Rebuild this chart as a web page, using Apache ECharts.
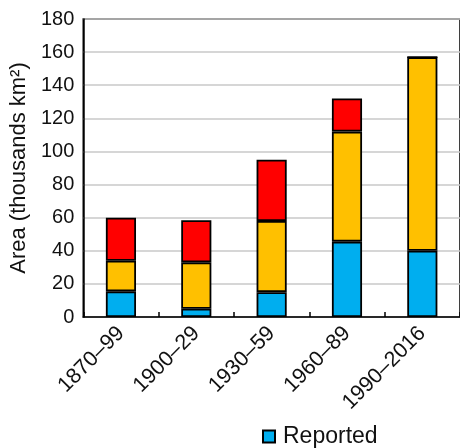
<!DOCTYPE html>
<html lang="en">
<head>
    <meta charset="UTF-8">
    <title>Area chart</title>
    <style>
        html, body { margin: 0; padding: 0; background: #fff; }
        #main { width: 460px; height: 448px; }
    </style>
    <script src="https://cdn.jsdelivr.net/npm/echarts@6/dist/echarts.min.js"></script>
</head>
<body>
<div id="main"></div>
<script>
    // periods
    var periods = ['1870–99', '1900–29', '1930–59', '1960–89', '1990–2016'];
    // stacked parts, thousands km2
    var reported = [15.5, 5, 15, 45.5, 40];
    var middle = [18.5, 28, 43, 66.5, 117];
    var upper = [26, 25.5, 37, 20, 0];
    var yTicks = [0, 20, 40, 60, 80, 100, 120, 140, 160, 180];

    var font = 'Liberation Sans, Arial, Helvetica, sans-serif';
    var chart = echarts.init(document.getElementById('main'));

    function part(name, data, color) {
        return {
            name: name,
            type: 'bar',
            stack: 'area',
            data: data,
            barWidth: '40%',
            itemStyle: { color: color, borderColor: '#000', borderWidth: 1.8 }
        };
    }

    var option = {
        backgroundColor: '#fff',
        animation: false,
        textStyle: { fontFamily: font },
        grid: {
            left: 82, right: -6, top: 19, bottom: 131,
            show: true, borderColor: '#000', borderWidth: 1.5
        },
        legend: {
            data: ['Reported'],
            left: 262, top: 425,
            padding: 0,
            icon: 'rect',
            itemWidth: 12, itemHeight: 12,
            itemGap: 10,
            textStyle: { fontSize: 23, color: '#111', fontFamily: font, padding: [0, 0, 0, 3] }
        },
        xAxis: {
            type: 'category',
            data: periods,
            axisLine: { lineStyle: { color: '#000', width: 1.5 } },
            axisTick: { show: true, inside: true, length: 5, lineStyle: { color: '#000', width: 1.5 } },
            axisLabel: { rotate: 45, fontSize: 21.5, color: '#111', margin: 13, fontFamily: font }
        },
        yAxis: {
            type: 'value',
            min: yTicks[0],
            max: yTicks[yTicks.length - 1],
            interval: 20,
            name: 'Area (thousands km²)',
            nameLocation: 'middle',
            nameGap: 53,
            nameTextStyle: { fontSize: 22, color: '#111', fontFamily: font },
            axisLine: { show: true, lineStyle: { color: '#000', width: 1.5 } },
            axisTick: { show: false },
            axisLabel: { fontSize: 20, color: '#111', margin: 9, fontFamily: font },
            splitLine: { lineStyle: { color: '#c8c8c8', width: 1.5 } }
        },
        series: [
            part('Reported', reported, '#00AEEF'),
            part('Middle', middle, '#FFC000'),
            part('Upper', upper, '#FF0000')
        ]
    };
    chart.setOption(option);
</script>
</body>
</html>
